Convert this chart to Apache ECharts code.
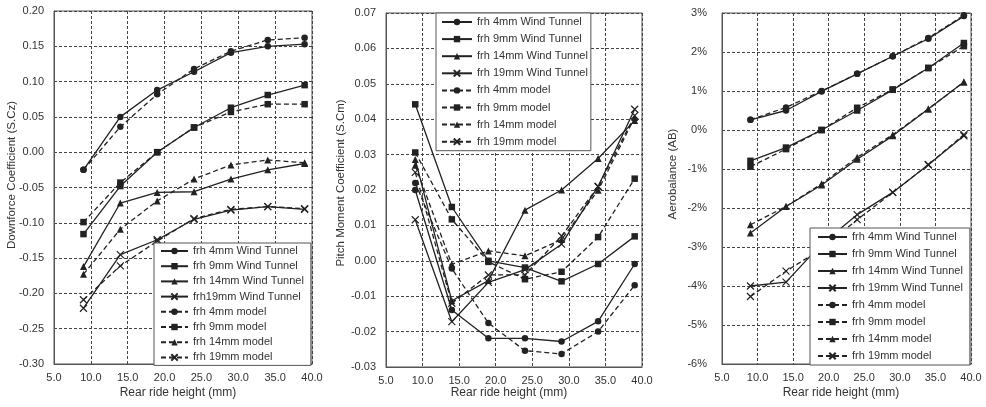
<!DOCTYPE html>
<html><head><meta charset="utf-8">
<script src="https://cdn.jsdelivr.net/npm/echarts@6/dist/echarts.min.js"></script>
<style>html,body{margin:0;padding:0;background:#fff}#c{width:986px;height:407px}</style>
</head><body><div id="c"></div><script>
// Rear ride heights (mm) at which values were measured
const rideHeights = [9, 14, 19, 24, 29, 34, 39];

// Panel 1: Downforce coefficient (S.Cz)
const cz4WT  = [-0.025, 0.050, 0.088, 0.114, 0.141, 0.150, 0.153];
const cz9WT  = [-0.116, -0.048, 0.000, 0.035, 0.063, 0.081, 0.095];
const cz14WT = [-0.162, -0.072, -0.057, -0.056, -0.038, -0.025, -0.016];
const cz19WT = [-0.221, -0.145, -0.124, -0.095, -0.082, -0.077, -0.081];
const cz4M   = [-0.025, 0.036, 0.082, 0.118, 0.143, 0.159, 0.162];
const cz9M   = [-0.099, -0.043, 0.000, 0.035, 0.057, 0.068, 0.068];
const cz14M  = [-0.173, -0.109, -0.069, -0.038, -0.018, -0.011, -0.015];
const cz19M  = [-0.209, -0.161, -0.126, -0.094, -0.081, -0.077, -0.080];

// Panel 2: Pitch moment coefficient (S.Cm)
const cm4WT  = [0.020, -0.0139, -0.0219, -0.0219, -0.0228, -0.0171, -0.0009];
const cm9WT  = [0.0442, 0.0152, 0.0000, -0.0019, -0.0058, -0.0009, 0.0069];
const cm14WT = [0.0286, -0.0113, -0.0056, 0.0143, 0.0200, 0.0289, 0.0396];
const cm19WT = [0.0116, -0.0172, -0.0061, -0.0025, 0.0047, 0.0210, 0.0428];
const cm4M   = [0.022, -0.0022, -0.0176, -0.0254, -0.0263, -0.0200, -0.0069];
const cm9M   = [0.0306, 0.0117, -0.0003, -0.0052, -0.0031, 0.0067, 0.0232];
const cm14M  = [0.0270, -0.0010, 0.0028, 0.0014, 0.0060, 0.0199, 0.0405];
const cm19M  = [0.0250, -0.0120, -0.0040, -0.0040, 0.0070, 0.0210, 0.0410];

// Panel 3: Aerobalance (AB), percent
const ab4WT  = [0.26, 0.50, 0.99, 1.44, 1.89, 2.34, 2.92];
const ab9WT  = [-0.79, -0.45, 0.00, 0.50, 1.03, 1.59, 2.23];
const ab14WT = [-2.64, -1.96, -1.41, -0.75, -0.15, 0.54, 1.23];
const ab19WT = [-4.00, -3.90, -2.92, -2.17, -1.60, -0.89, -0.15];
const ab4M   = [0.26, 0.58, 1.00, 1.44, 1.89, 2.36, 2.94];
const ab9M   = [-0.94, -0.49, 0.00, 0.57, 1.04, 1.59, 2.15];
const ab14M  = [-2.43, -1.96, -1.38, -0.70, -0.12, 0.54, 1.23];
const ab19M  = [-4.27, -3.62, -3.05, -2.30, -1.60, -0.89, -0.12];

// Axis ranges / tick settings
const xRange = {min: 5, max: 40, interval: 5};
const yRanges = [
  {min: -0.30, max: 0.20, interval: 0.05, dec: 2, suffix: ''},
  {min: -0.03, max: 0.07, interval: 0.01, dec: 2, suffix: ''},
  {min: -6, max: 3, interval: 1, dec: 0, suffix: '%'}
];
const yNames = ['Downforce Coefficient (S.Cz)', 'Pitch Moment Coefficient (S.Cm)', 'Aerobalance (AB)'];
const xName = 'Rear ride height (mm)';

const legendNames = [
  ['frh 4mm Wind Tunnel','frh 9mm Wind Tunnel','frh 14mm Wind Tunnel','frh19mm Wind Tunnel','frh 4mm model','frh 9mm model','frh 14mm model','frh 19mm model'],
  ['frh 4mm Wind Tunnel','frh 9mm Wind Tunnel','frh 14mm Wind Tunnel','frh 19mm Wind Tunnel','frh 4mm model','frh 9mm model','frh 14mm model','frh 19mm model'],
  ['frh 4mm Wind Tunnel','frh 9mm Wind Tunnel','frh 14mm Wind Tunnel','frh 19mm Wind Tunnel','frh 4mm model','frh 9mm model','frh 14mm model','frh 19mm model']
];
const panelData = [
  [cz4WT, cz9WT, cz14WT, cz19WT, cz4M, cz9M, cz14M, cz19M],
  [cm4WT, cm9WT, cm14WT, cm19WT, cm4M, cm9M, cm14M, cm19M],
  [ab4WT, ab9WT, ab14WT, ab19WT, ab4M, ab9M, ab14M, ab19M]
];

const INK = '#222';
const FONT = '"Liberation Sans", Arial, sans-serif';
const CROSS = 'path://M0,0L10,10M10,0L0,10';
const symbols = ['circle', 'rect', 'triangle', CROSS];
const symSizes = [6.5, 6.5, 7, 7];

const grids = [
  {left: 54, top: 11, width: 258, height: 353},
  {left: 386, top: 13, width: 256, height: 354},
  {left: 722, top: 13, width: 249, height: 351}
];
const legendPos = [
  {left: 154, top: 243, itemWidth: 27, itemGap: 3.2, padding: [2, 7, 2, 6]},
  {left: 436, top: 13, itemWidth: 30, itemGap: 5.1, padding: [3, 3, 3, 5]},
  {left: 810, top: 228, itemWidth: 29, itemGap: 5, padding: [3, 7, 3, 7]}
];
const yNamePos = [[12, 175], [341, 183], [673, 174]];
const xNamePos = [[178, 393], [509, 393], [841, 393]];

const series = [];
panelData.forEach((arrs, p) => {
  arrs.forEach((vals, i) => {
    const k = i % 4, dashed = i >= 4;
    const isCross = k === 3;
    series.push({
      type: 'line',
      name: legendNames[p][i],
      xAxisIndex: p, yAxisIndex: p,
      data: rideHeights.map((x, j) => [x, vals[j]]),
      symbol: symbols[k],
      symbolSize: symSizes[k],
      showSymbol: true,
      animation: false,
      lineStyle: {color: INK, width: 1.3, type: dashed ? [5, 3] : 'solid'},
      itemStyle: {color: INK, borderColor: INK, borderWidth: isCross ? 1.2 : 0},
      emphasis: {disabled: true}
    });
  });
});

const option = {
  backgroundColor: '#fff',
  animation: false,
  grid: grids.map(g => Object.assign({show: true, borderColor: '#555', borderWidth: 1, backgroundColor: 'transparent', containLabel: false}, g)),
  xAxis: grids.map((g, p) => ({
    gridIndex: p, type: 'value', min: xRange.min, max: xRange.max, interval: xRange.interval,
    axisLabel: {formatter: v => v.toFixed(1), color: '#333', fontSize: 11, fontFamily: FONT, margin: 8},
    axisTick: {show: false},
    axisLine: {show: true, onZero: false, lineStyle: {color: '#555'}},
    splitLine: {show: true, lineStyle: {type: [3, 2], color: '#444', width: 1}}
  })),
  yAxis: yRanges.map((r, p) => ({
    gridIndex: p, type: 'value', min: r.min, max: r.max, interval: r.interval,
    axisLabel: {formatter: v => v.toFixed(r.dec) + r.suffix, color: '#333', fontSize: 11, fontFamily: FONT, margin: p === 2 ? 15 : 10},
    axisTick: {show: false},
    axisLine: {show: true, onZero: false, lineStyle: {color: '#555'}},
    splitLine: {show: true, lineStyle: {type: [3, 2], color: '#444', width: 1}}
  })),
  legend: legendPos.map((l, p) => ({
    data: legendNames[p],
    orient: 'vertical',
    left: l.left, top: l.top,
    itemWidth: l.itemWidth, itemHeight: 8, itemGap: l.itemGap,
    padding: l.padding,
    backgroundColor: '#fff', borderColor: '#555', borderWidth: 1, borderRadius: 0,
    textStyle: {color: '#333', fontSize: 11, fontFamily: FONT, lineHeight: 12},
    selectedMode: false,
    z: 10
  })),
  graphic: [
    ...yNamePos.map((pos, p) => ({
      type: 'text', x: pos[0], y: pos[1], rotation: Math.PI / 2, z: 20,
      style: {text: yNames[p], fill: '#333', font: '11.5px ' + FONT, textAlign: 'center', textVerticalAlign: 'middle'}
    })),
    ...xNamePos.map(pos => ({
      type: 'text', x: pos[0], y: pos[1], z: 20,
      style: {text: xName, fill: '#333', font: '12px ' + FONT, textAlign: 'center', textVerticalAlign: 'middle'}
    }))
  ],
  series: series
};

const chart = echarts.init(document.getElementById('c'));
chart.setOption(option);
</script></body></html>
